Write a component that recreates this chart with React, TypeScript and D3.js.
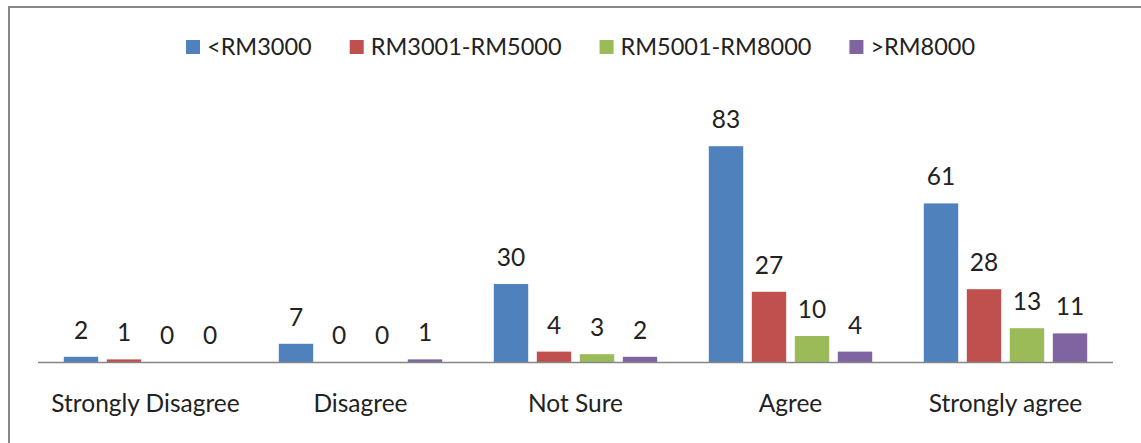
import React, { useRef, useEffect } from 'react';
import * as d3 from 'd3';

const categories = ['Strongly Disagree', 'Disagree', 'Not Sure', 'Agree', 'Strongly agree'];
const seriesNames = ['<RM3000', 'RM3001-RM5000', 'RM5001-RM8000', '>RM8000'];
const below3000 = [2, 7, 30, 83, 61];
const rm3001to5000 = [1, 0, 4, 27, 28];
const rm5001to8000 = [0, 0, 3, 10, 13];
const above8000 = [0, 1, 2, 4, 11];
const colors = ['#4F81BD', '#C0504D', '#9BBB59', '#8064A2'];

const W = 1141;
const H = 443;
const FONT = 'Lato, "Open Sans", sans-serif';
const FS = 24.5;

export default function App() {
    const svgRef = useRef<SVGSVGElement>(null);

    useEffect(() => {
        document.body.style.margin = '0';
        const values = [below3000, rm3001to5000, rm5001to8000, above8000];

        const svg = d3.select(svgRef.current);
        svg.selectAll('*').remove();

        // chart frame (runs off the right and bottom edge)
        svg.append('rect')
            .attr('x', 9).attr('y', 7)
            .attr('width', 1300).attr('height', 600)
            .attr('fill', '#fff')
            .attr('stroke', '#868686')
            .attr('stroke-width', 2);

        const x0 = d3.scaleBand<string>()
            .domain(categories)
            .range([38, 1113]);

        const x1 = d3.scaleBand<string>()
            .domain(seriesNames)
            .range([0, x0.bandwidth()])
            .paddingInner(0.2)
            .paddingOuter(0.6);

        const y = d3.scaleLinear()
            .domain([0, 90])
            .range([362, 128]);

        const groups = svg.append('g')
            .selectAll('g')
            .data(categories)
            .join('g')
            .attr('transform', d => `translate(${x0(d)},0)`);

        groups.selectAll('rect')
            .data((d, ci) => seriesNames.map((s, si) => ({ s, v: values[si][ci], c: colors[si] })))
            .join('rect')
            .attr('x', d => x1(d.s)!)
            .attr('width', x1.bandwidth())
            .attr('y', d => y(d.v))
            .attr('height', d => y(0) - y(d.v))
            .attr('fill', d => d.c);

        groups.selectAll('text')
            .data((d, ci) => seriesNames.map((s, si) => ({ s, v: values[si][ci] })))
            .join('text')
            .attr('x', d => x1(d.s)! + x1.bandwidth() / 2)
            .attr('y', d => y(d.v) - 18)
            .attr('text-anchor', 'middle')
            .attr('font-family', FONT)
            .attr('font-size', FS)
            .attr('fill', '#222')
            .text(d => d.v);

        // baseline
        svg.append('line')
            .attr('x1', 38).attr('x2', 1113)
            .attr('y1', y(0) + 0.5).attr('y2', y(0) + 0.5)
            .attr('stroke', '#868686')
            .attr('stroke-width', 1.5);

        // category labels
        svg.append('g')
            .selectAll('text')
            .data(categories)
            .join('text')
            .attr('x', d => x0(d)! + x0.bandwidth() / 2)
            .attr('y', 412)
            .attr('text-anchor', 'middle')
            .attr('font-family', FONT)
            .attr('font-size', FS)
            .attr('fill', '#222')
            .text(d => d);

        // legend
        const legend = svg.append('g');
        let lx = 186;
        seriesNames.forEach((name, i) => {
            legend.append('rect')
                .attr('x', lx).attr('y', 40)
                .attr('width', 14).attr('height', 14)
                .attr('fill', colors[i]);
            const t = legend.append('text')
                .attr('x', lx + 21)
                .attr('y', 55)
                .attr('font-family', FONT)
                .attr('font-size', 23.5)
                .attr('fill', '#222')
                .text(name);
            const len = (t.node() as SVGTextElement).getComputedTextLength();
            lx += 21 + len + 38;
        });
    }, []);

    return (
        <svg ref={svgRef} width={W} height={H} style={{ display: 'block', background: '#fff' }} />
    );
}
